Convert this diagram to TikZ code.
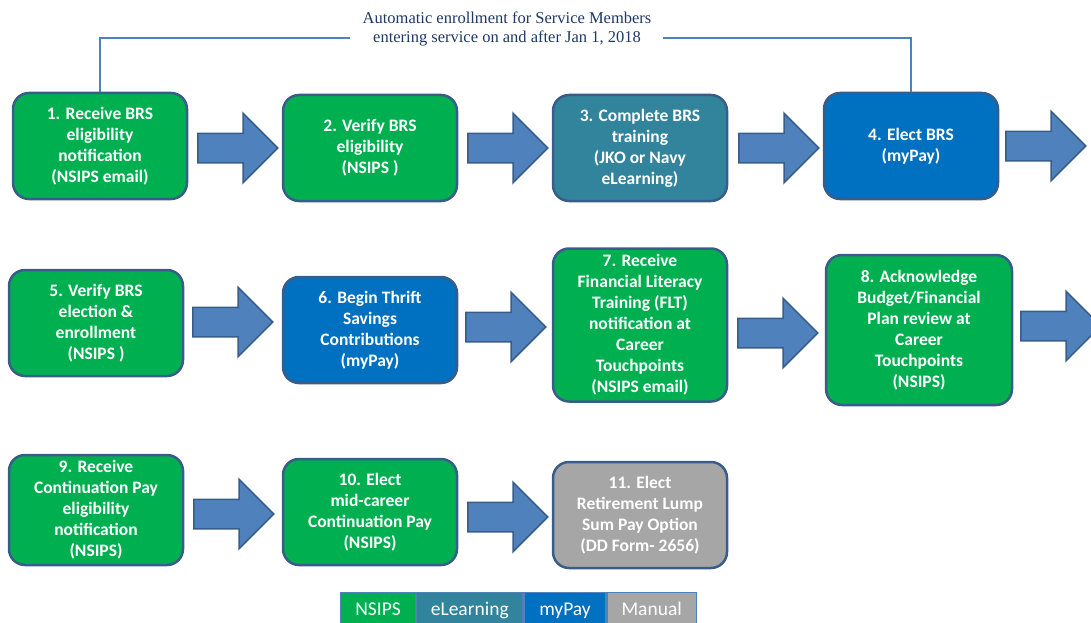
\documentclass[tikz,border=0pt]{standalone}
\usepackage{fontspec}
\setmainfont{Carlito}
\newfontfamily\capfont{Liberation Serif}
\usetikzlibrary{shapes.arrows}
\definecolor{nsips}{HTML}{00B050}
\definecolor{elearn}{HTML}{31849B}
\definecolor{mypay}{HTML}{0070C0}
\definecolor{manual}{HTML}{A6A6A6}
\definecolor{rim}{HTML}{385D8A}
\definecolor{arrowblue}{HTML}{4F81BD}
\definecolor{navy}{HTML}{1F3864}

\begin{document}
\begin{tikzpicture}[x=1pt,y=-1pt,
    stepbox/.style={draw=rim, line width=2.5pt, rounded corners=16pt, minimum width=174pt,
      minimum height=106pt, align=center, text=white, inner sep=2pt,
      font=\fontsize{17.5}{21}\selectfont\bfseries},
    bigarrow/.style={single arrow, draw=rim, fill=arrowblue, line width=1.5pt, anchor=tail,
      minimum height=80pt, inner xsep=0pt, inner ysep=14pt, single arrow head extend=20pt},
    key/.style={draw=arrowblue, line width=1.2pt, minimum height=36pt, anchor=north west,
      text=white, inner sep=0pt, text height=13pt, text depth=4pt,
      font=\fontsize{19.5}{22}\selectfont},
    link/.style={draw=arrowblue, line width=1.2pt}]
  \useasboundingbox (0,0) rectangle (1091,623);
  % row 1
  \node[stepbox, fill=nsips] (b1) at (100,146) {1. Receive BRS\\eligibility\\notification\\(NSIPS email)};
  \node[stepbox, fill=nsips] (b2) at (370,148) {2. Verify BRS\\eligibility\\(NSIPS )};
  \node[stepbox, fill=elearn] (b3) at (640,148) {3. Complete BRS\\training\\(JKO or Navy\\eLearning)};
  \node[stepbox, fill=mypay] (b4) at (911,146) {4. Elect BRS\\(myPay)};
  \node[bigarrow] (a1) at (197,148) {};
  \node[bigarrow] (a2) at (467,148) {};
  \node[bigarrow] (a3) at (738,148) {};
  \node[bigarrow] (a4) at (1005,146) {};
  % row 2
  \node[stepbox, fill=nsips] (b5) at (96,323) {5. Verify BRS\\election \&\\enrollment\\(NSIPS )};
  \node[stepbox, fill=mypay] (b6) at (370,330) {6. Begin Thrift\\Savings\\Contributions\\(myPay)};
  \node[stepbox, fill=nsips, minimum height=153pt] (b7) at (640,325) {7. Receive\\Financial Literacy\\Training (FLT)\\notification at\\Career\\Touchpoints\\(NSIPS email)};
  \node[stepbox, fill=nsips, minimum width=186pt, minimum height=150pt] (b8) at (919,330) {8. Acknowledge\\Budget/Financial\\Plan review at\\Career\\Touchpoints\\(NSIPS)};
  \node[bigarrow] (a5) at (192,322) {};
  \node[bigarrow] (a6) at (465,327) {};
  \node[bigarrow] (a7) at (737,333) {};
  \node[bigarrow] (a8) at (1020,326) {};
  % row 3
  \node[stepbox, fill=nsips, minimum height=110pt] (b9) at (96,510) {9. Receive\\Continuation Pay\\eligibility\\notification\\(NSIPS)};
  \node[stepbox, fill=nsips] (b10) at (370,512) {10. Elect\\mid-career\\Continuation Pay\\(NSIPS)};
  \node[stepbox, fill=manual] (b11) at (640,515) {11. Elect\\Retirement Lump\\Sum Pay Option\\(DD Form- 2656)};
  \node[bigarrow] (a9) at (193,514) {};
  \node[bigarrow] (a10) at (467,517) {};
  % automatic enrollment link
  \node[text=navy, align=center, font=\capfont\fontsize{16.5}{19}\selectfont] (autotxt) at (507,29)
    {Automatic enrollment for Service Members\\entering service on and after Jan 1, 2018};
  \coordinate (lj) at (350,38);
  \coordinate (rj) at (663,38);
  \draw[link] (b1.north) |- (lj);
  \draw[link] (rj) -| (b4.north);
  % legend
  \node[key, fill=nsips, minimum width=75pt] (k1) at (340,592) {NSIPS};
  \node[key, fill=elearn, minimum width=106pt] (k2) at (k1.north east) {eLearning};
  \node[key, fill=mypay, minimum width=82pt] (k3) at (k2.north east) {myPay};
  \node[key, fill=manual, minimum width=89pt] (k4) at (k3.north east) {Manual};
\end{tikzpicture}
\end{document}
